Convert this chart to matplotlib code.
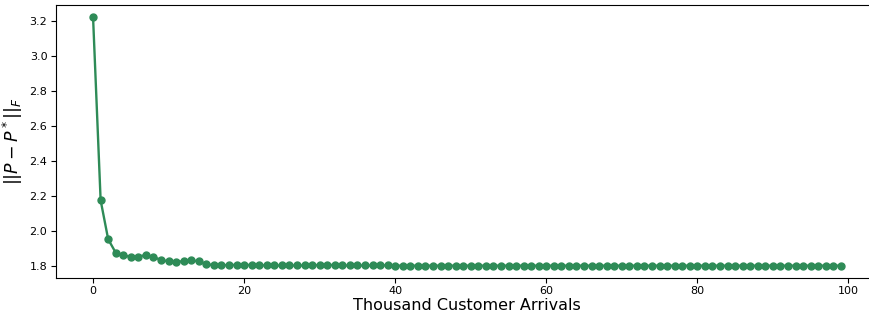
import matplotlib
matplotlib.use("Agg")
import matplotlib.pyplot as plt
import numpy as np

head = [3.22, 2.175, 1.952, 1.875, 1.862, 1.850, 1.853, 1.862, 1.850, 1.834,
        1.825, 1.821, 1.828, 1.832, 1.825, 1.809, 1.804, 1.803, 1.805, 1.805,
        1.805, 1.805, 1.804, 1.802, 1.802, 1.802, 1.802, 1.802, 1.802, 1.803,
        1.805, 1.806, 1.804, 1.802, 1.802, 1.802, 1.802, 1.802, 1.804, 1.802]
tail = [1.801] * 60
values = head + tail
arrivals = list(range(len(values)))

fig = plt.figure(figsize=(8.7, 3.16), dpi=100)
ax = fig.add_axes([0.064, 0.12, 0.9455, 0.864])
ax.plot(arrivals, values, marker='o', color='seagreen', markersize=5, linewidth=1.7)
ax.set_xlabel('Thousand Customer Arrivals', fontsize=11.5, labelpad=1.5)
ax.set_ylabel(r'$||P - P^*||_F$', fontsize=12.5, labelpad=3)
ax.tick_params(labelsize=8, pad=2.5)
fig.savefig('out.png', dpi=100)
